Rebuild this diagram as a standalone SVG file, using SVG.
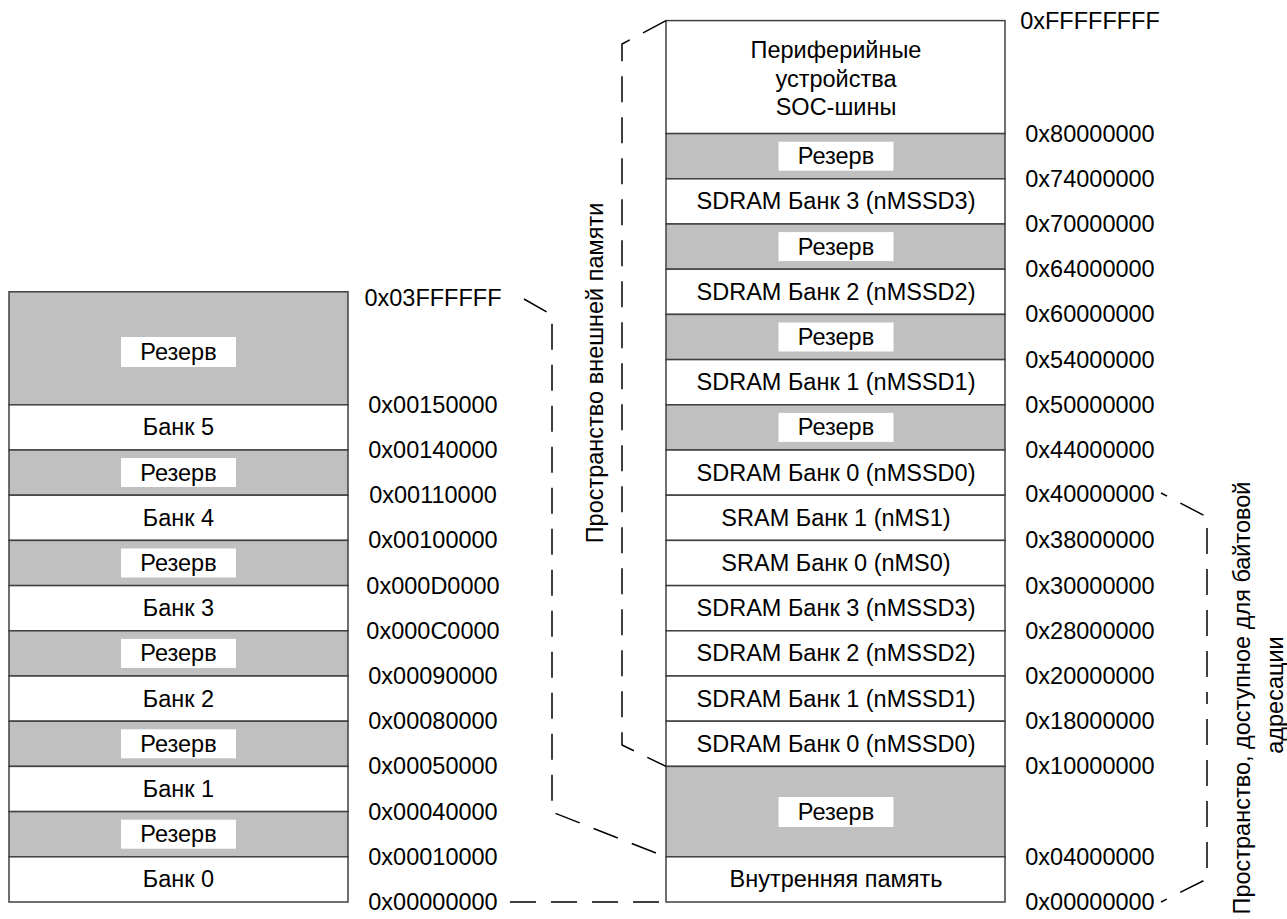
<svg xmlns="http://www.w3.org/2000/svg" width="1287" height="919" viewBox="0 0 1287 919">
<style>
text{font-family:"Liberation Sans",Arial,sans-serif;font-size:23.5px;fill:#000}
.c{text-anchor:middle}
.g{fill:#c0c0c0;stroke:#404040;stroke-width:1.5}
.w{fill:#fff;stroke:#404040;stroke-width:1.5}
.lb{fill:#fff;stroke:none}
.d{fill:none;stroke:#000;stroke-width:1.5;stroke-dasharray:26 15}
</style>
<rect width="1287" height="919" fill="#fff"/>
<g id="left-map">
<g id="l-res6"><rect class="g" x="9" y="291.8" width="339" height="113"/><rect class="lb" x="121" y="337" width="115" height="30"/><text class="c" x="178.5" y="360">Резерв</text></g>
<g id="l-bank5"><rect class="w" x="9" y="404.8" width="339" height="45.2"/><text class="c" x="178.5" y="435.4">Банк 5</text></g>
<g id="l-res5"><rect class="g" x="9" y="450" width="339" height="45.2"/><rect class="lb" x="121" y="458" width="115" height="29"/><text class="c" x="178.5" y="480.6">Резерв</text></g>
<g id="l-bank4"><rect class="w" x="9" y="495.2" width="339" height="45.2"/><text class="c" x="178.5" y="525.8">Банк 4</text></g>
<g id="l-res4"><rect class="g" x="9" y="540.4" width="339" height="45.2"/><rect class="lb" x="121" y="548.5" width="115" height="29"/><text class="c" x="178.5" y="571">Резерв</text></g>
<g id="l-bank3"><rect class="w" x="9" y="585.6" width="339" height="45.2"/><text class="c" x="178.5" y="616.2">Банк 3</text></g>
<g id="l-res3"><rect class="g" x="9" y="630.8" width="339" height="45.2"/><rect class="lb" x="121" y="638.9" width="115" height="29"/><text class="c" x="178.5" y="661.4">Резерв</text></g>
<g id="l-bank2"><rect class="w" x="9" y="676" width="339" height="45.2"/><text class="c" x="178.5" y="706.6">Банк 2</text></g>
<g id="l-res2"><rect class="g" x="9" y="721.2" width="339" height="45.2"/><rect class="lb" x="121" y="729.3" width="115" height="29"/><text class="c" x="178.5" y="751.8">Резерв</text></g>
<g id="l-bank1"><rect class="w" x="9" y="766.4" width="339" height="45.2"/><text class="c" x="178.5" y="797">Банк 1</text></g>
<g id="l-res1"><rect class="g" x="9" y="811.6" width="339" height="45.2"/><rect class="lb" x="121" y="819.7" width="115" height="29"/><text class="c" x="178.5" y="842.2">Резерв</text></g>
<g id="l-bank0"><rect class="w" x="9" y="856.8" width="339" height="45.2"/><text class="c" x="178.5" y="887.4">Банк 0</text></g>
</g>
<g id="left-addresses">
<text class="c" x="433" y="306">0x03FFFFFF</text>
<text class="c" x="433" y="413">0x00150000</text>
<text class="c" x="433" y="458">0x00140000</text>
<text class="c" x="433" y="503">0x00110000</text>
<text class="c" x="433" y="548">0x00100000</text>
<text class="c" x="433" y="594">0x000D0000</text>
<text class="c" x="433" y="639">0x000C0000</text>
<text class="c" x="433" y="684">0x00090000</text>
<text class="c" x="433" y="729">0x00080000</text>
<text class="c" x="433" y="774">0x00050000</text>
<text class="c" x="433" y="820">0x00040000</text>
<text class="c" x="433" y="865">0x00010000</text>
<text class="c" x="433" y="910">0x00000000</text>
</g>
<g id="right-map">
<g id="r-periph"><rect class="w" x="666" y="20.6" width="339" height="113"/><text class="c" x="836" y="58.4">Периферийные</text><text class="c" x="836" y="86.7">устройства</text><text class="c" x="836" y="115">SOC-шины</text></g>
<g id="r-res4"><rect class="g" x="666" y="133.6" width="339" height="45.2"/><rect class="lb" x="778.5" y="141.7" width="115" height="29"/><text class="c" x="836" y="164.2">Резерв</text></g>
<g id="r-sd3h"><rect class="w" x="666" y="178.8" width="339" height="45.2"/><text class="c" x="836" y="209.4">SDRAM Банк 3 (nMSSD3)</text></g>
<g id="r-res3"><rect class="g" x="666" y="224" width="339" height="45.2"/><rect class="lb" x="778.5" y="232.1" width="115" height="29"/><text class="c" x="836" y="254.6">Резерв</text></g>
<g id="r-sd2h"><rect class="w" x="666" y="269.2" width="339" height="45.2"/><text class="c" x="836" y="299.8">SDRAM Банк 2 (nMSSD2)</text></g>
<g id="r-res2"><rect class="g" x="666" y="314.4" width="339" height="45.2"/><rect class="lb" x="778.5" y="322.5" width="115" height="29"/><text class="c" x="836" y="345">Резерв</text></g>
<g id="r-sd1h"><rect class="w" x="666" y="359.6" width="339" height="45.2"/><text class="c" x="836" y="390.2">SDRAM Банк 1 (nMSSD1)</text></g>
<g id="r-res1"><rect class="g" x="666" y="404.8" width="339" height="45.2"/><rect class="lb" x="778.5" y="412.9" width="115" height="29"/><text class="c" x="836" y="435.4">Резерв</text></g>
<g id="r-sd0h"><rect class="w" x="666" y="450" width="339" height="45.2"/><text class="c" x="836" y="480.6">SDRAM Банк 0 (nMSSD0)</text></g>
<g id="r-sram1"><rect class="w" x="666" y="495.2" width="339" height="45.2"/><text class="c" x="836" y="525.8">SRAM Банк 1 (nMS1)</text></g>
<g id="r-sram0"><rect class="w" x="666" y="540.4" width="339" height="45.2"/><text class="c" x="836" y="571">SRAM Банк 0 (nMS0)</text></g>
<g id="r-sd3"><rect class="w" x="666" y="585.6" width="339" height="45.2"/><text class="c" x="836" y="616.2">SDRAM Банк 3 (nMSSD3)</text></g>
<g id="r-sd2"><rect class="w" x="666" y="630.8" width="339" height="45.2"/><text class="c" x="836" y="661.4">SDRAM Банк 2 (nMSSD2)</text></g>
<g id="r-sd1"><rect class="w" x="666" y="676" width="339" height="45.2"/><text class="c" x="836" y="706.6">SDRAM Банк 1 (nMSSD1)</text></g>
<g id="r-sd0"><rect class="w" x="666" y="721.2" width="339" height="45.2"/><text class="c" x="836" y="751.8">SDRAM Банк 0 (nMSSD0)</text></g>
<g id="r-res0"><rect class="g" x="666" y="766.4" width="339" height="90.4"/><rect class="lb" x="778.5" y="797" width="115" height="30"/><text class="c" x="836" y="820">Резерв</text></g>
<g id="r-int"><rect class="w" x="666" y="856.8" width="339" height="45.2"/><text class="c" x="836" y="887.4">Внутренняя память</text></g>
</g>
<g id="right-addresses">
<text class="c" x="1090" y="29">0xFFFFFFFF</text>
<text class="c" x="1090" y="142">0x80000000</text>
<text class="c" x="1090" y="187">0x74000000</text>
<text class="c" x="1090" y="232">0x70000000</text>
<text class="c" x="1090" y="277">0x64000000</text>
<text class="c" x="1090" y="322">0x60000000</text>
<text class="c" x="1090" y="368">0x54000000</text>
<text class="c" x="1090" y="413">0x50000000</text>
<text class="c" x="1090" y="458">0x44000000</text>
<text class="c" x="1090" y="502">0x40000000</text>
<text class="c" x="1090" y="548">0x38000000</text>
<text class="c" x="1090" y="594">0x30000000</text>
<text class="c" x="1090" y="639">0x28000000</text>
<text class="c" x="1090" y="684">0x20000000</text>
<text class="c" x="1090" y="729">0x18000000</text>
<text class="c" x="1090" y="774">0x10000000</text>
<text class="c" x="1090" y="865">0x04000000</text>
<text class="c" x="1090" y="910">0x00000000</text>
</g>
<g id="connectors">
<path class="d" d="M524 299 L552 315 L552 812 L666 857"/>
<path class="d" d="M510 902 L666 902"/>
<path class="d" d="M666 20.6 L622 44 L622 745 L666 766.4"/>
<path class="d" style="stroke-dashoffset:20" d="M1207 698 L1207 517 L1161 493"/>
<path class="d" style="stroke-dashoffset:20" d="M1207 698 L1207 879 L1161 902"/>
</g>
<g id="labels">
<text class="c" transform="rotate(-90 603 373)" x="603" y="373">Пространство внешней памяти</text>
<text class="c" transform="rotate(-90 1250 698)" x="1250" y="698">Пространство, доступное для байтовой</text>
<text class="c" transform="rotate(-90 1283 695)" x="1283" y="695">адресации</text>
</g>
</svg>
